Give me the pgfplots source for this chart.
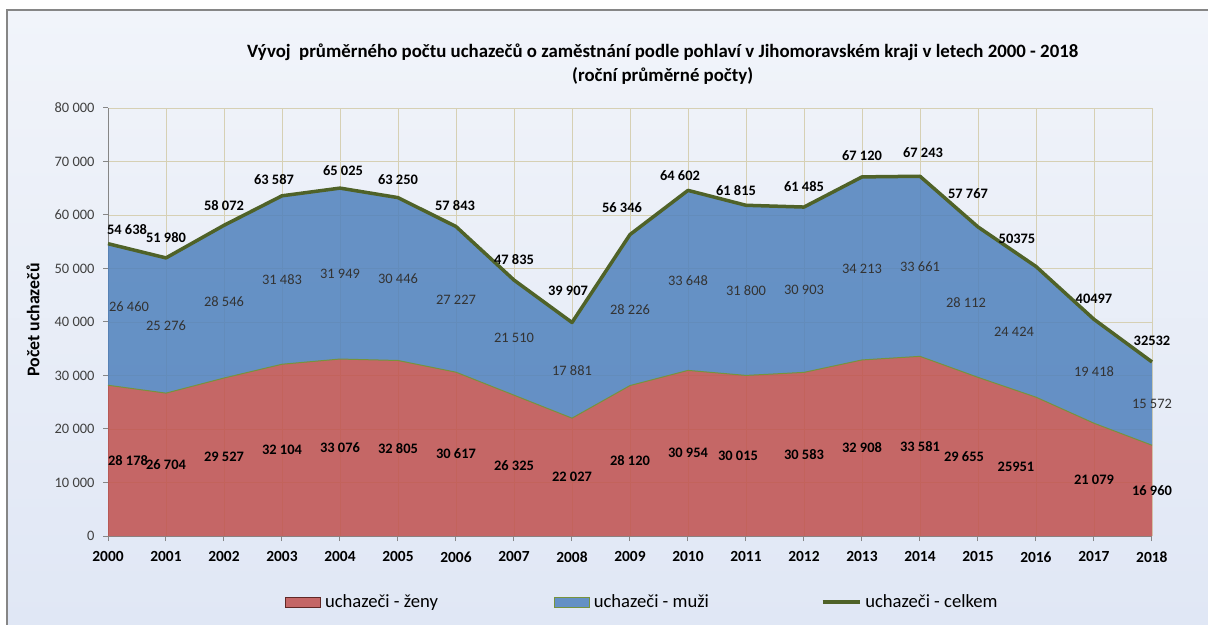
\documentclass[border=0pt]{standalone}
\usepackage{fontspec}
\setmainfont{Carlito}
\usepackage{pgfplots}
\usepackage{pgfplotstable}
\pgfplotsset{compat=1.18}

\definecolor{zenyc}{RGB}{192,80,77}
\definecolor{muzic}{RGB}{79,129,189}
\definecolor{celkc}{RGB}{79,98,40}
\definecolor{edgec}{RGB}{119,147,60}
\definecolor{gridc}{RGB}{214,208,180}
\definecolor{axisc}{RGB}{134,134,134}
\definecolor{bgtop}{RGB}{241,244,250}
\definecolor{bgmid}{RGB}{202,216,238}
\definecolor{bgbot}{RGB}{224,231,245}

\newcommand\lbl{\fontsize{14.5}{17}\selectfont}

% values; zl/ml/cl = label text, *dx/*dy = label nudges in px
\pgfplotstableread{
year zeny muzi celkem zl ml cl zdx mdx mdy cdx cdy
2000 28178 26460 54638 28~178 26~460 54~638 20 21 8 19 14
2001 26704 25276 51980 26~704 25~276 51~980 0 0 0 0 20
2002 29527 28546 58072 29~527 28~546 58~072 0 0 0 0 20
2003 32104 31483 63587 32~104 31~483 63~587 0 0 0 -8 16
2004 33076 31949 65025 33~076 31~949 65~025 0 0 0 3 17
2005 32805 30446 63250 32~805 30~446 63~250 0 0 0 0 18
2006 30617 27227 57843 30~617 27~227 57~843 0 0 0 -1 21
2007 26325 21510 47835 26~325 21~510 47~835 0 0 0 0 21
2008 22027 17881 39907 22~027 17~881 39~907 0 0 0 -4 32
2009 28120 28226 56346 28~120 28~226 56~346 0 0 0 -8 27
2010 30954 33648 64602 30~954 33~648 64~602 0 0 0 -8 15
2011 30015 31800 61815 30~015 31~800 61~815 -8 0 0 -10 15
2012 30583 30903 61485 30~583 30~903 61~485 0 0 0 0 20
2013 32908 34213 67120 32~908 34~213 67~120 0 0 0 0 21
2014 33581 33661 67243 33~581 33~661 67~243 0 0 0 3 24
2015 29655 28112 57767 29~655 28~112 57~767 -14 -12 0 -10 33
2016 25951 24424 50375 25951 24~424 50375 -20 -22 0 -19 28
2017 21079 19418 40497 21~079 19~418 40497 0 0 0 0 21
2018 16960 15572 32532 16~960 15~572 32532 0 0 0 0 21
}\data

\begin{document}
\begin{tikzpicture}
\useasboundingbox (0,0) rectangle (1208bp,625bp);
\fill[white] (0,0) rectangle (1208bp,625bp);
\shade[top color=bgtop, middle color=bgmid, bottom color=bgbot] (7bp,0) rectangle (1208bp,615bp);
\draw[axisc, line width=1.5bp] (7bp,0) -- (7bp,615bp) -- (1208bp,615bp);

\node[font=\fontsize{18.9}{22}\selectfont\bfseries] at (662.7bp,572.3bp) {Vývoj~~průměrného počtu uchazečů o zaměstnání podle pohlaví v Jihomoravském kraji v letech 2000 - 2018};
\node[font=\fontsize{18.9}{22}\selectfont\bfseries] at (662.7bp,549.5bp) {(roční průměrné počty)};
\node[font=\fontsize{17.9}{21}\selectfont\bfseries, rotate=90] at (33bp,305bp) {Počet uchazečů};

\begin{axis}[
  at={(108bp,89bp)}, anchor=south west,
  scale only axis, width=1044bp, height=428bp,
  xmin=2000, xmax=2018, ymin=0, ymax=80000,
  xtick={2000,...,2018}, ytick={0,10000,...,80000},
  scaled y ticks=false,
  axis x line*=bottom, axis y line*=left,
  axis line style={-, draw=axisc, line width=1bp},
  tick align=outside, major tick length=5bp,
  tick style={draw=axisc, line width=1bp},
  grid=major, grid style={draw=gridc, line width=0.8bp},
  /pgf/number format/assume math mode=true,
  xticklabel shift=7bp, yticklabel shift=5bp,
  xticklabel style={font=\fontsize{15.5}{18}\selectfont\bfseries, /pgf/number format/1000 sep={}},
  yticklabel style={font=\lbl, text=black!75, /pgf/number format/1000 sep={~}},
  clip=false,
  legend columns=3,
  legend cell align=left,
  legend style={at={(0.16954,-0.15421)}, anchor=west, draw=none, fill=none,
    inner sep=0pt, font=\fontsize{18.7}{22}\selectfont,
    nodes={inner sep=0pt},
    /tikz/every odd column/.style={column sep=4bp}},
]
\addplot[stack plots=y, fill=zenyc, fill opacity=0.85, draw=none,
  legend image code/.code={\draw[fill=zenyc, fill opacity=0.85, draw=black!50!zenyc, line width=0.8bp] (0bp,-5bp) rectangle (35bp,5bp);}]
  table[x=year, y=zeny] {\data} \closedcycle;
\addlegendentry{\makebox[229bp][l]{uchazeči - ženy}}
\addplot[stack plots=y, fill=muzic, fill opacity=0.85, draw=none,
  legend image code/.code={\draw[fill=muzic, fill opacity=0.85, draw=edgec, line width=0.8bp] (0bp,-5bp) rectangle (35bp,5bp);}]
  table[x=year, y=muzi] {\data} \closedcycle;
\addlegendentry{\makebox[227bp][l]{uchazeči - muži}}
\addplot[celkc, line width=3.5bp, line join=round, mark=none,
  legend image code/.code={\draw[celkc, line width=3.5bp] (0bp,0bp) -- (37bp,0bp);}]
  table[x=year, y=celkem] {\data};
\addlegendentry{uchazeči - celkem}

% thin edge between the two areas
\addplot[forget plot, edgec, line width=1bp, mark=none] table[x=year, y=zeny] {\data};

% labels: women, men, total
\addplot[forget plot, draw=none, mark=none, nodes near coords, point meta=explicit symbolic,
  visualization depends on={\thisrow{zdx}\as\dx},
  every node near coord/.append style={anchor=center, inner sep=0pt, font=\lbl\bfseries, text=black, xshift=\dx bp}]
  table[x=year, y expr=\thisrow{zeny}/2, meta=zl] {\data};
\addplot[forget plot, draw=none, mark=none, nodes near coords, point meta=explicit symbolic,
  visualization depends on={\thisrow{mdx}\as\dx},
  visualization depends on={\thisrow{mdy}\as\dy},
  every node near coord/.append style={anchor=center, inner sep=0pt, font=\lbl, text=black!80, xshift=\dx bp, yshift=\dy bp}]
  table[x=year, y expr=\thisrow{zeny}+\thisrow{muzi}/2, meta=ml] {\data};
\addplot[forget plot, draw=none, mark=none, nodes near coords, point meta=explicit symbolic,
  visualization depends on={\thisrow{cdx}\as\dx},
  visualization depends on={\thisrow{cdy}\as\dy},
  every node near coord/.append style={anchor=center, inner sep=0pt, font=\lbl\bfseries, text=black, xshift=\dx bp, yshift=\dy bp}]
  table[x=year, y=celkem, meta=cl] {\data};
\end{axis}
\end{tikzpicture}
\end{document}
